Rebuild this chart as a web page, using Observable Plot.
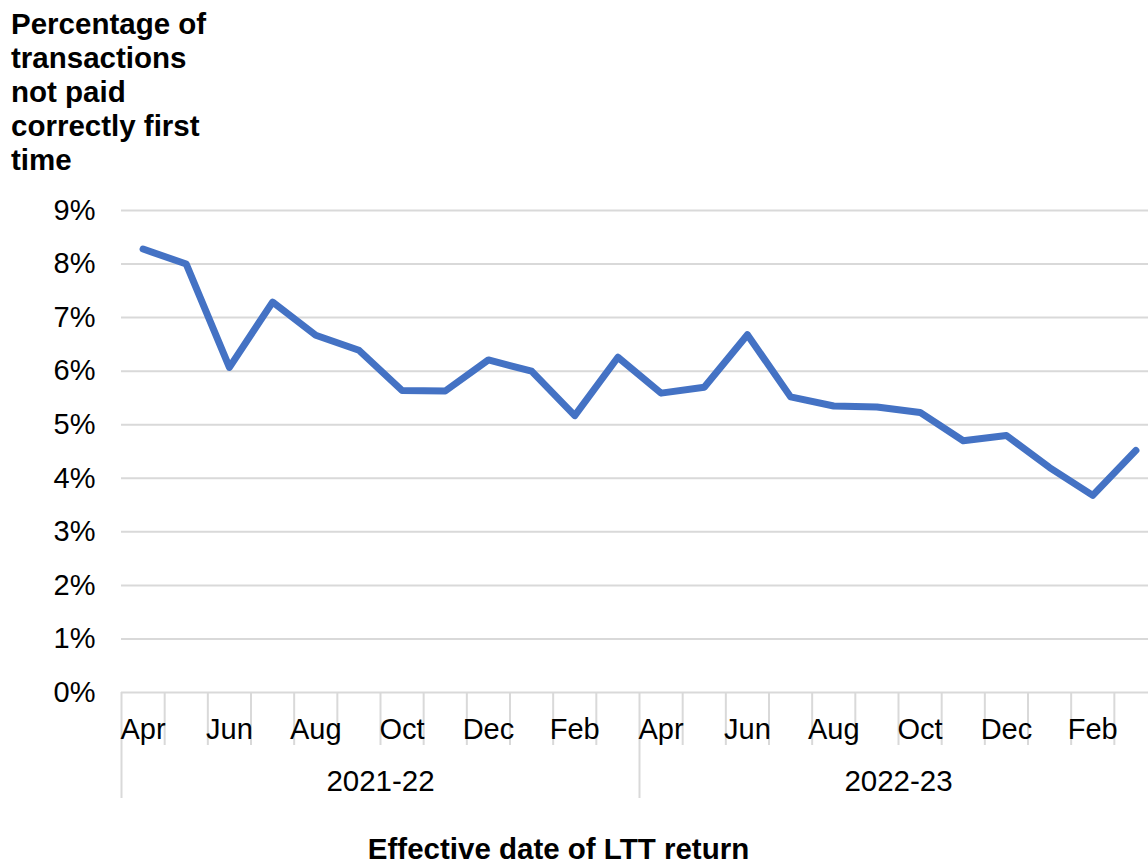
<!DOCTYPE html>
<html>
<head>
<meta charset="utf-8">
<script src="https://cdn.jsdelivr.net/npm/d3@7"></script>
<script src="https://cdn.jsdelivr.net/npm/@observablehq/plot@0.6"></script>
<style>
  html, body { margin: 0; padding: 0; background: #fff; }
  #wrap { position: relative; width: 1148px; height: 862px; overflow: hidden; font-family: "Liberation Sans", Arial, sans-serif; color: #000; }
  #ytitle { position: absolute; left: 11px; top: 7px; font-weight: bold; font-size: 29.5px; line-height: 34px; }
  #chart { position: absolute; left: 0; top: 190px; width: 1160px; }
  #xtitle { position: absolute; left: 0; width: 1117px; top: 835px; text-align: center; font-weight: bold; font-size: 29.5px; line-height: 27px; }
</style>
</head>
<body>
<div id="wrap">
  <div id="ytitle">Percentage of<br>transactions<br>not paid<br>correctly first<br>time</div>
  <div id="chart"></div>
  <div id="xtitle">Effective date of LTT return</div>
</div>
<script>
const monthNames = ["Apr","May","Jun","Jul","Aug","Sep","Oct","Nov","Dec","Jan","Feb","Mar"];
const years = ["2021-22", "2022-23"];
const values = [8.28, 8.00, 6.07, 7.29, 6.67, 6.39, 5.64, 5.63, 6.21, 6.00, 5.17, 6.26,
                5.59, 5.70, 6.68, 5.52, 5.35, 5.33, 5.23, 4.70, 4.80, 4.20, 3.68, 4.52];
const yTicks = [0,1,2,3,4,5,6,7,8,9];

const data = values.map((v, i) => ({
  idx: i,
  month: monthNames[i % 12],
  year: years[Math.floor(i / 12)],
  value: v
}));
const n = data.length;
const labelTicks = data.filter(d => d.idx % 2 === 0).map(d => d.idx + 0.5);
const boundaryTicks = d3.range(1, n).filter(i => i % 12 !== 0);
const yearTicks = d3.range(0, n + 1, 12);
const yearCenters = years.map((y, k) => k * 12 + 6);

const font = "Liberation Sans, Arial, sans-serif";
const grid = "#d9d9d9";

const plot = Plot.plot({
  width: 1157,
  height: 620,
  marginLeft: 121,
  marginRight: 0,
  marginTop: 20,
  marginBottom: 118,
  style: { fontFamily: font, fontSize: "29px", color: "#000", background: "transparent", overflow: "visible", maxWidth: "none" },
  x: { type: "linear", domain: [0, n], label: null },
  y: { domain: [0, 9], label: null },
  marks: [
    Plot.ruleY(yTicks, { stroke: grid, strokeWidth: 2 }),
    Plot.axisX({ ticks: boundaryTicks, tickSize: 53, tickFormat: () => "", stroke: grid, strokeWidth: 2, strokeOpacity: 1, label: null }),
    Plot.axisX({ ticks: yearTicks, tickSize: 106, tickFormat: () => "", stroke: grid, strokeWidth: 2, strokeOpacity: 1, label: null }),
    Plot.axisX({ ticks: labelTicks, tickSize: 0, tickPadding: 26, tickFormat: d => monthNames[Math.floor(d) % 12], fontSize: 29, fill: "#000", label: null }),
    Plot.axisX({ ticks: yearCenters, tickSize: 0, tickPadding: 78, tickFormat: d => years[Math.floor(d / 12)], fontSize: 29.5, fill: "#000", label: null }),
    Plot.axisY({ ticks: yTicks, tickSize: 0, tickPadding: 26, tickFormat: d => d + "%", fontSize: 29, fill: "#000", label: null }),
    Plot.line(data, { x: d => d.idx + 0.5, y: "value", stroke: "#4472c4", strokeWidth: 7, strokeLinecap: "round", strokeLinejoin: "round" })
  ]
});
document.getElementById("chart").appendChild(plot);
</script>
</body>
</html>
